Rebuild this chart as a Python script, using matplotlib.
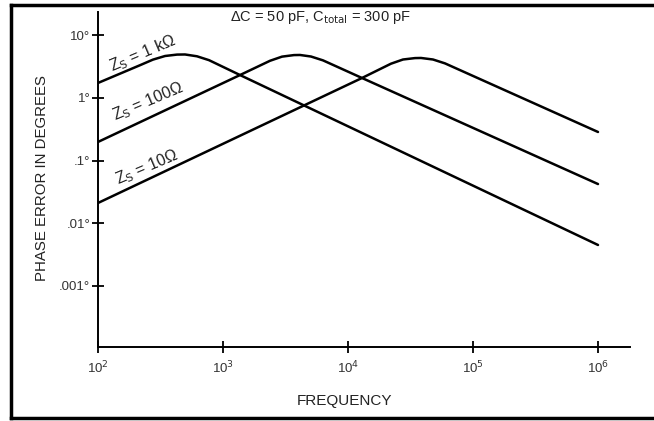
import matplotlib
matplotlib.use("Agg")
import matplotlib.pyplot as plt
from matplotlib.lines import Line2D

plt.rcParams['font.family'] = ['Liberation Sans', 'DejaVu Sans']

# Data (frequency in Hz, phase error in degrees)
freq_1k = [100, 217, 275, 344, 429, 497, 619, 773, 1368, 1e6]
err_1k = [1.74, 3.35, 4.11, 4.70, 4.95, 4.97, 4.65, 4.03, 2.33, 0.00445]

freq_100 = [100, 1368, 2377, 2965, 3698, 4130, 5058, 6310, 12940, 1e6]
err_100 = [0.198, 2.33, 3.94, 4.59, 4.86, 4.88, 4.61, 4.0, 2.09, 0.042]

freq_10 = [100, 12940, 22080, 27540, 34360, 38370, 47860, 59700, 1e6]
err_10 = [0.0209, 2.09, 3.54, 4.13, 4.35, 4.37, 4.13, 3.58, 0.286]

x_ticks = [1e2, 1e3, 1e4, 1e5, 1e6]
x_tick_labels = ['10$^2$', '10$^3$', '10$^4$', '10$^5$', '10$^6$']
y_ticks = [1e-3, 1e-2, 1e-1, 1, 10]
y_tick_labels = ['.001°', '.01°', '.1°', '1°', '10°']

W, H = 654, 421
fig = plt.figure(figsize=(W / 100, H / 100), dpi=100)
fig.patch.set_facecolor('white')

# outer frame
frame_kw = dict(color='black', linewidth=2.5, transform=fig.transFigure)
fig.add_artist(Line2D([11 / W, 11 / W], [1 - 5 / H, 1 - 418 / H], **frame_kw))
fig.add_artist(Line2D([11 / W, 1], [1 - 5 / H, 1 - 5 / H], **frame_kw))
fig.add_artist(Line2D([11 / W, 1], [1 - 418 / H, 1 - 418 / H], **frame_kw))

ax = fig.add_axes([98 / W, (H - 347) / H, (630 - 98) / W, (347 - 12) / H])
ax.set_xscale('log')
ax.set_yscale('log')
ax.set_xlim(1e2, 10 ** 6.256)
ax.set_ylim(10 ** -3.984, 10 ** 1.376)

lw = 1.8
for fx, ey in [(freq_1k, err_1k), (freq_100, err_100), (freq_10, err_10)]:
    ax.plot(fx, ey, color='black', lw=lw, solid_joinstyle='round',
            solid_capstyle='round')

for s in ['top', 'right']:
    ax.spines[s].set_visible(False)
for s in ['left', 'bottom']:
    ax.spines[s].set_linewidth(1.4)

ax.set_xticks(x_ticks)
ax.set_xticklabels(x_tick_labels)
ax.set_yticks(y_ticks)
ax.set_yticklabels(y_tick_labels)
ax.minorticks_off()
ax.tick_params(axis='both', direction='inout', length=9, width=1.3,
               labelsize=9.5, labelcolor='#333333')
ax.tick_params(axis='x', pad=5)
ax.tick_params(axis='y', pad=1)

txt_kw = dict(fontsize=11.5, color='#222222', rotation=23, rotation_mode='anchor',
              ha='left', va='baseline')
ax.text(129, 2.6, 'Z$_\\mathrm{S}$ = 1 kΩ', **txt_kw)
ax.text(137, 0.428, 'Z$_\\mathrm{S}$ = 100Ω', **txt_kw)
ax.text(145, 0.0406, 'Z$_\\mathrm{S}$ = 10Ω', **txt_kw)

fig.text(320 / W, 1 - 17 / H, 'ΔC = 50 pF, C$_\\mathrm{total}$ = 300 pF',
         ha='center', va='center', fontsize=10.5, color='#222222')
fig.text(345 / W, 1 - 401 / H, 'FREQUENCY', ha='center', va='center',
         fontsize=11, color='#222222')
fig.text(42 / W, 1 - 178 / H, 'PHASE ERROR IN DEGREES', ha='center', va='center',
         rotation=90, fontsize=10.8, color='#222222')

fig.savefig('out.png', dpi=100, facecolor='white')
